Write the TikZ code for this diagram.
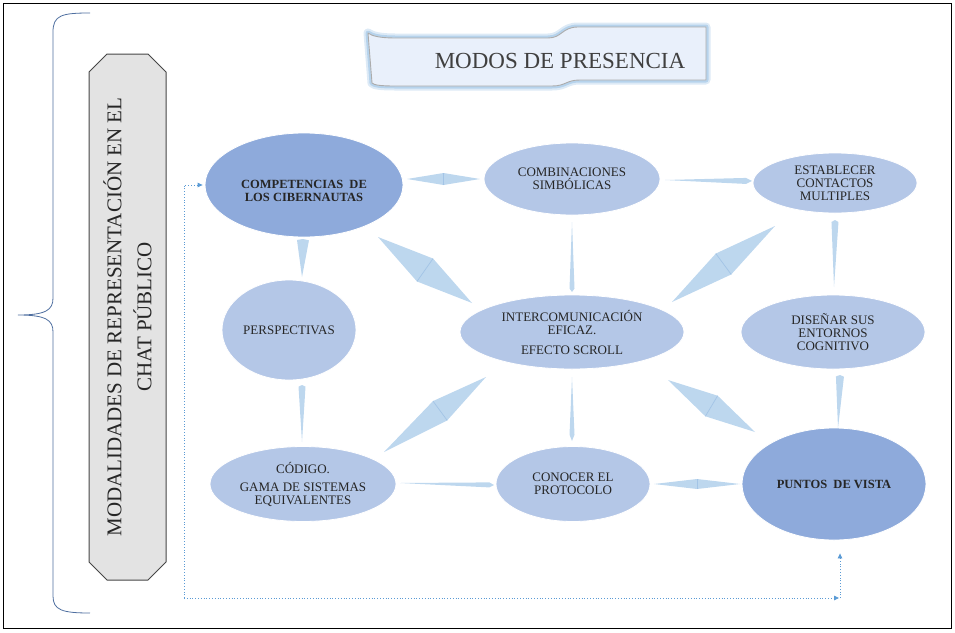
\documentclass[tikz,border=0pt]{standalone}
\usepackage{fontspec}
\setmainfont{Liberation Serif}
\usetikzlibrary{shapes.geometric,shapes.misc,calc,arrows.meta}
\definecolor{ellLight}{HTML}{B4C7E7}
\definecolor{ellDark}{HTML}{8EAADB}
\definecolor{connC}{HTML}{BDD7EE}
\definecolor{creaseC}{HTML}{A3C4E6}
\definecolor{dotC}{HTML}{5B9BD5}
\definecolor{braceC}{HTML}{4F6FA0}
\definecolor{bannerFill}{HTML}{E9F0FB}
\definecolor{glowC}{HTML}{9DC3E6}
\definecolor{boxFill}{HTML}{E3E3E3}
\newcommand\conn[4]{%
  \path #1 coordinate (cs) #2 coordinate (ce);
  \fill[connfill] (cs) -- ($(cs)!#3!(ce)!#4!90:(ce)$) -- (ce) -- ($(cs)!#3!(ce)!#4!-90:(ce)$) -- cycle;}
\newcommand\connk[4]{%
  \path #1 coordinate (cs) #2 coordinate (ce);
  \fill[connfill] (cs) -- ($(cs)!#3!(ce)!#4!90:(ce)$) coordinate (mp) -- (ce) -- ($(cs)!#3!(ce)!#4!-90:(ce)$) coordinate (mm) -- cycle;
  \draw[crease] (mp) -- (mm);}
\newcommand\bannerpath{(368,33) .. controls (372,36) and (380,38) .. (395,38) -- (548,38) .. controls (562,38) and (562,27) .. (578,27) -- (706,27) -- (706,80) -- (580,80) .. controls (566,80) and (566,86) .. (552,86) -- (395,86) .. controls (380,86) and (374,85) .. (372,83) -- cycle}
\begin{document}
\begin{tikzpicture}[x=1pt,y=-1pt,
  ell/.style={ellipse, fill=ellLight, draw=white, line width=0.8pt, inner sep=0pt, align=center, font=\fontsize{13}{13}\selectfont, text=black!85},
  dell/.style={ell, fill=ellDark, font=\bfseries\fontsize{12.5}{13}\selectfont},
  connfill/.style={fill=connC},
  crease/.style={draw=creaseC, line width=0.7pt},
  dotline/.style={draw=dotC, dotted, line width=0.8pt},
  tipA/.style={-{Triangle[length=5pt,width=4.5pt]}},
  lbox/.style={chamfered rectangle, chamfered rectangle xsep=9pt, chamfered rectangle ysep=9pt, fill=boxFill, draw=gray!55!black, line width=1pt, align=center, font=\fontsize{21}{30}\selectfont, text=black!85, inner sep=0pt},
  brace/.style={draw=braceC, line width=0.8pt}]
\useasboundingbox (0,0) rectangle (955,632);
\draw[line width=0.8pt] (3,3) rectangle (951,628);
% brace
\draw[brace] (90,13) .. controls (62,13) and (53,15) .. (53,32) -- (53,298) .. controls (53,310) and (46,315) .. (18,315) .. controls (46,315) and (53,320) .. (53,332) -- (53,596) .. controls (53,610) and (62,613) .. (90,613);
% left box
\node[lbox, rotate=90, minimum width=526, minimum height=77] (lb) at (127.5,317) {MODALIDADES DE REPRESENTACIÓN EN EL\\CHAT PÚBLICO};
% title banner
\draw[glowC, opacity=0.35, line width=9pt, line join=round] \bannerpath;
\draw[glowC, opacity=0.6, line width=5pt, line join=round] \bannerpath;
\fill[bannerFill] \bannerpath;
\draw[gray!65, line width=0.9pt, line join=round] \bannerpath;
\node[font=\fontsize{23}{23}\selectfont, text=black!75] (title) at (560,61) {MODOS DE PRESENCIA};
% ellipses
\node[dell, minimum width=198, minimum height=104, label={[dell, fill=none, draw=none, yshift=-6pt]center:{COMPETENCIAS \ DE\\LOS CIBERNAUTAS}}] (e1) at (304,185) {};
\node[ell, minimum width=176, minimum height=72] (e2) at (572,179) {COMBINACIONES\\SIMBÓLICAS};
\node[ell, minimum width=164, minimum height=60] (e3) at (835,183) {ESTABLECER\\CONTACTOS\\MULTIPLES};
\node[ell, minimum width=134, minimum height=100] (e4) at (289,330) {PERSPECTIVAS};
\node[ell, minimum width=224, minimum height=74] (e5) at (572,332) {INTERCOMUNICACIÓN\\EFICAZ.\\[7pt]EFECTO SCROLL};
\node[ell, minimum width=184, minimum height=74] (e6) at (833,332) {DISEÑAR SUS\\ENTORNOS\\COGNITIVO};
\node[ell, minimum width=186, minimum height=75] (e7) at (303,484) {CÓDIGO.\\[5pt]GAMA DE SISTEMAS\\EQUIVALENTES};
\node[ell, minimum width=154, minimum height=75] (e8) at (573,484) {CONOCER EL\\PROTOCOLO};
\node[dell, minimum width=184, minimum height=112] (e9) at (834,484) {PUNTOS \ DE VISTA};
% connectors
\connk{($(e1)+(103,-6)$)}{($(e2)+(-92,0)$)}{0.5}{6pt}
\conn{($(e2)+(93,1)$)}{($(e3)+(-83,-2)$)}{0.93}{3pt}
\conn{($(e1)+(-1,54)$)}{($(e4)+(13,-53)$)}{0.03}{6pt}
\conn{($(e4)+(13,55)$)}{($(e7)+(-1,-42)$)}{0.03}{3.5pt}
\conn{($(e2)+(0,43)$)}{($(e5)+(0,-40)$)}{0.95}{2.5pt}
\conn{($(e5)+(0,45)$)}{($(e8)+(-1,-43)$)}{0.9}{2.5pt}
\conn{($(e3)+(0,37)$)}{($(e6)+(1,-45)$)}{0.03}{3.5pt}
\conn{($(e6)+(7,43)$)}{($(e9)+(4,-56)$)}{0.03}{4pt}
\conn{($(e7)+(97,-1)$)}{($(e8)+(-79,1)$)}{0.95}{2.5pt}
\connk{($(e8)+(81,0)$)}{($(e9)+(-94,0)$)}{0.5}{5pt}
\connk{($(e1)+(74,52)$)}{($(e5)+(-100,-29)$)}{0.5}{14pt}
\connk{($(e5)+(100,-30)$)}{($(e3)+(-60,43)$)}{0.5}{13pt}
\connk{($(e5)+(-86,45)$)}{($(e7)+(81,-32)$)}{0.45}{12pt}
\connk{($(e5)+(96,48)$)}{($(e9)+(-79,-52)$)}{0.5}{12pt}
% dotted return arrow
\coordinate (dl) at (184,598);
\coordinate (dr) at (840,598);
\draw[dotline, tipA, shorten >=2pt] (dl) |- (e1.west);
\draw[dotline, tipA, shorten >=1pt] (dl) -- (dr);
\draw[dotline, tipA, shorten >=13pt] (dr) -- (dr |- e9.south);
\end{tikzpicture}
\end{document}
